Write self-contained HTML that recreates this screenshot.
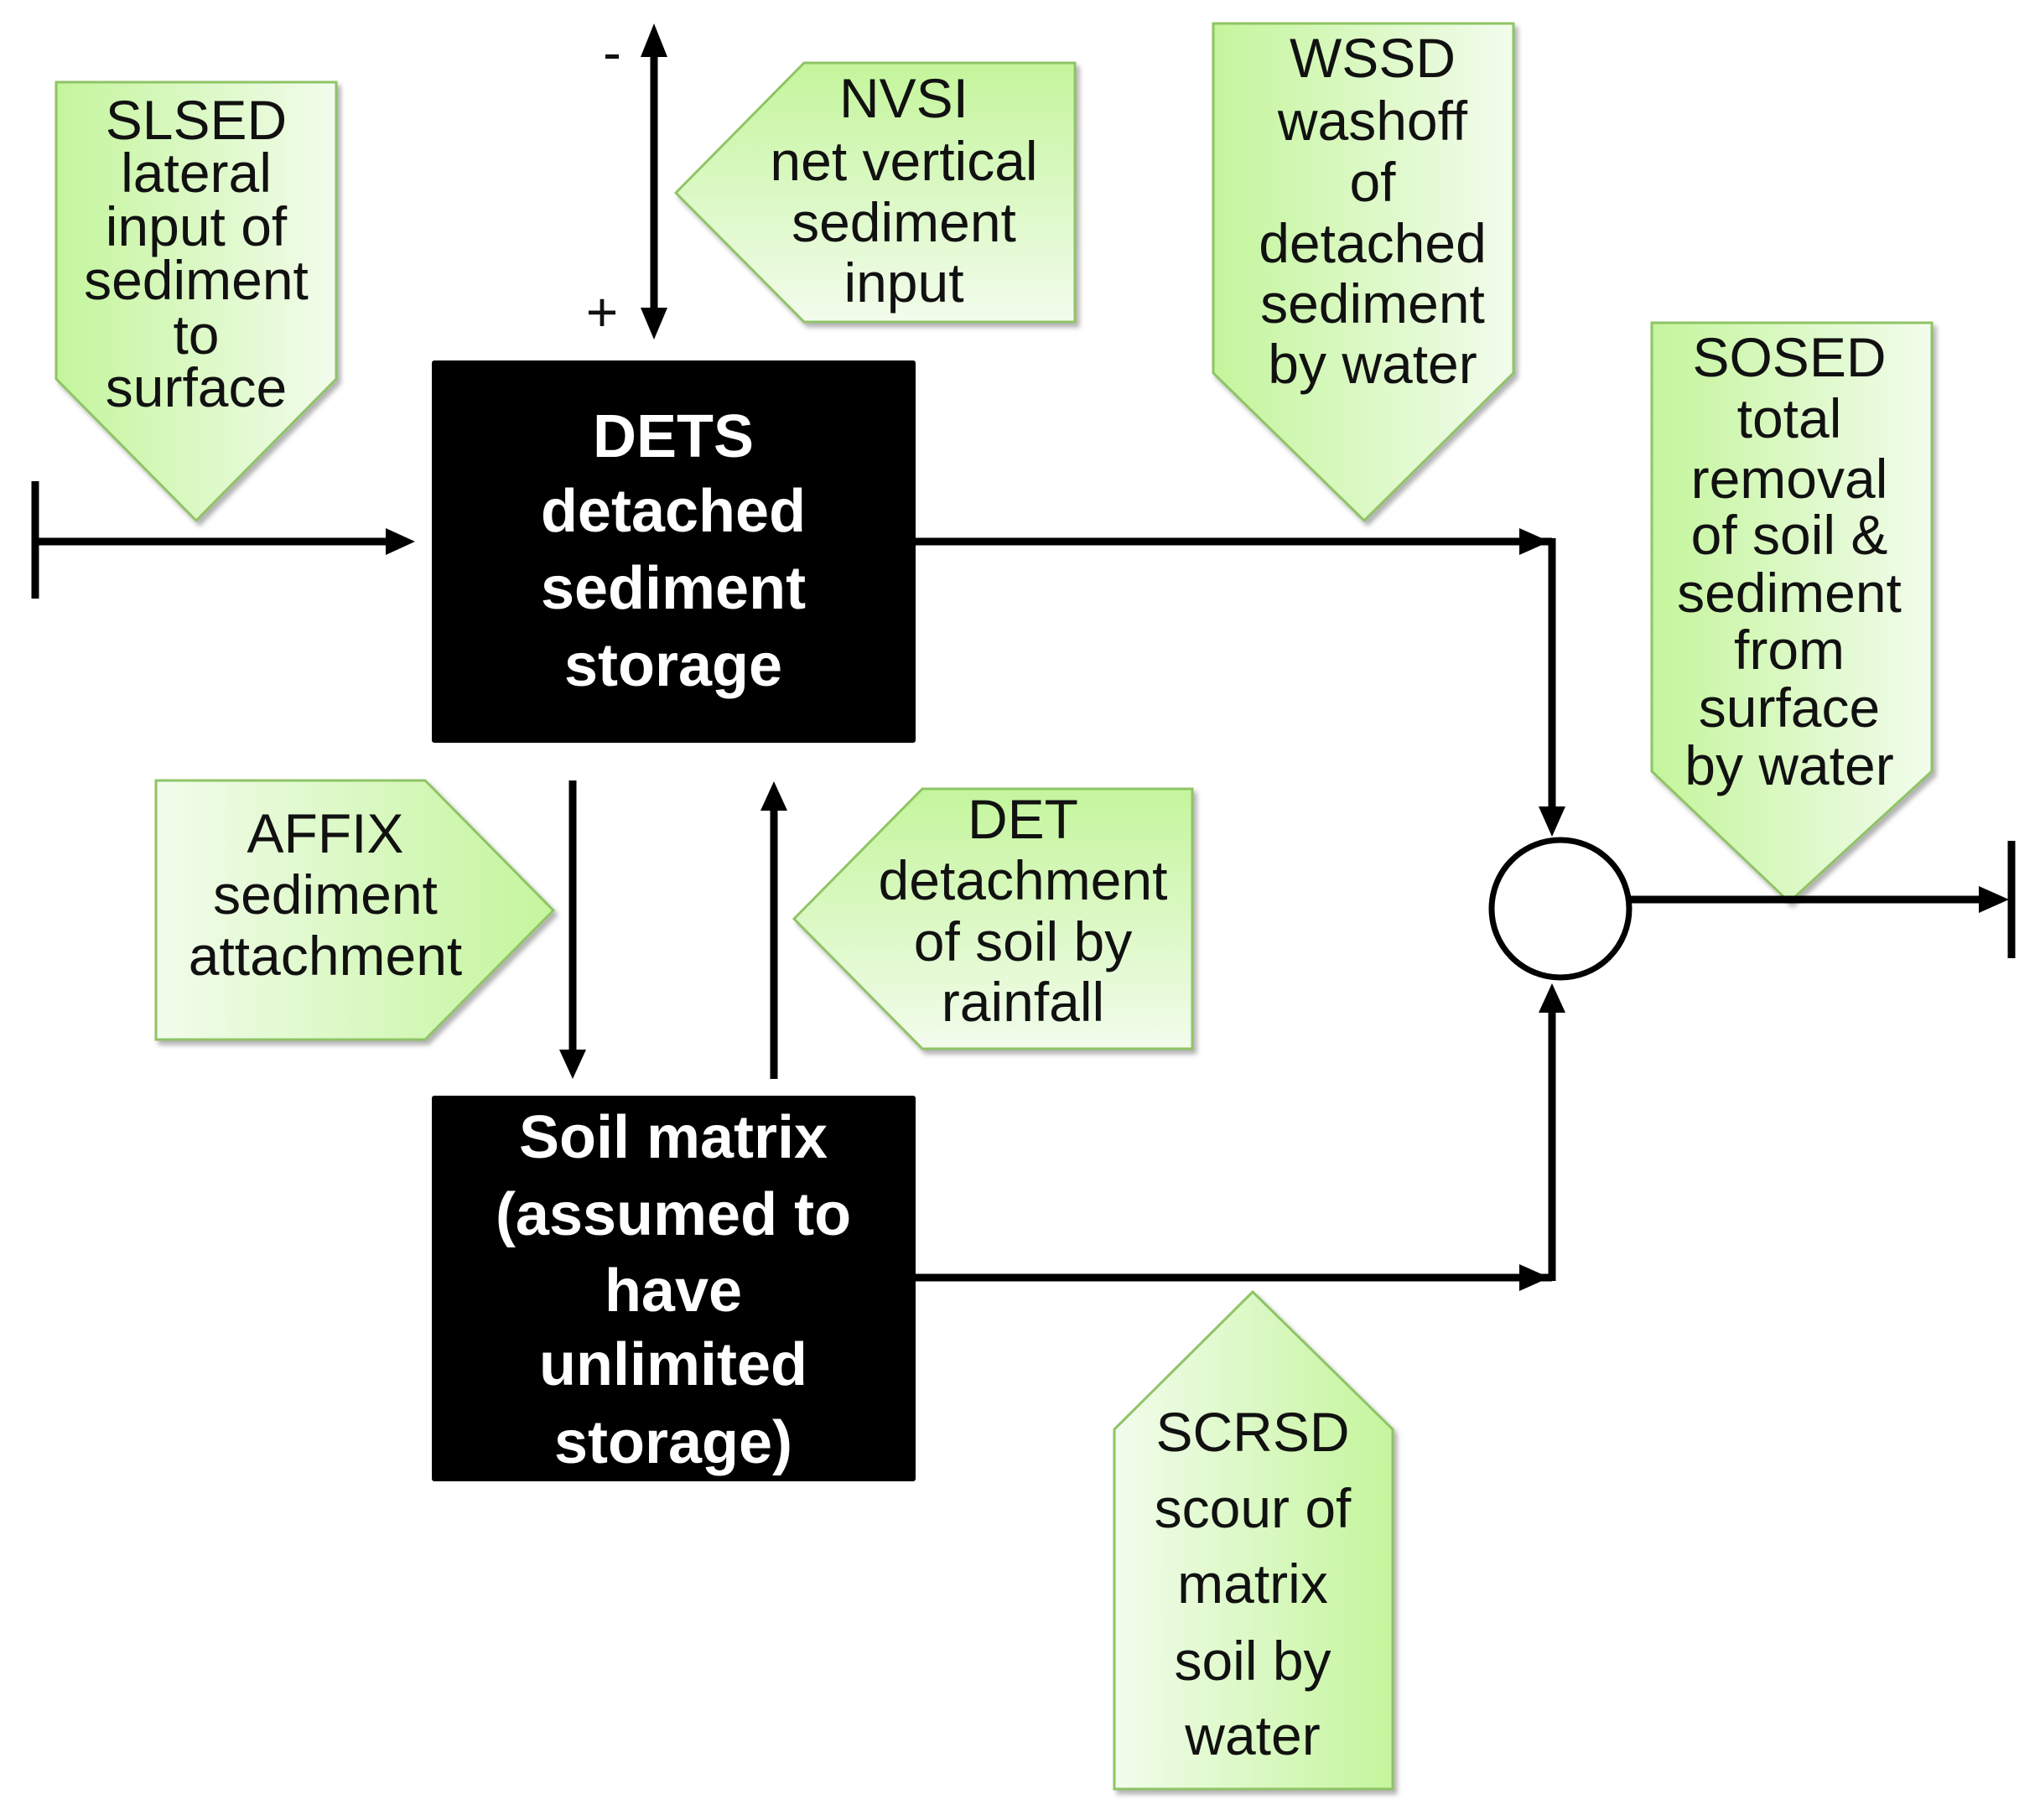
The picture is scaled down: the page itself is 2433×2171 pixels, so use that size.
<!DOCTYPE html>
<html><head><meta charset="utf-8"><style>html,body{margin:0;padding:0;background:#fff}</style></head>
<body>
<svg width="2433" height="2166" viewBox="0 0 2433 2166" xmlns="http://www.w3.org/2000/svg">
<defs>
<linearGradient id="gL" x1="0" y1="0" x2="1" y2="0"><stop offset="0" stop-color="#c4f59c"/><stop offset="1" stop-color="#f2fcec"/></linearGradient>
<linearGradient id="gR" x1="0" y1="0" x2="1" y2="0"><stop offset="0" stop-color="#f2fcec"/><stop offset="1" stop-color="#c4f59c"/></linearGradient>
<linearGradient id="gT" x1="0" y1="0" x2="0" y2="1"><stop offset="0" stop-color="#c4f59c"/><stop offset="1" stop-color="#f2fcec"/></linearGradient>
<filter id="sh" x="-10%" y="-10%" width="130%" height="130%"><feDropShadow dx="4" dy="5" stdDeviation="3" flood-color="#000" flood-opacity="0.3"/></filter>
</defs>
<g fill="url(#gL)" stroke="#8fc466" stroke-width="3" filter="url(#sh)">
<polygon points="67,98 401,98 401,452 234,621 67,452"/>
<polygon points="806,230 959,75 1282,75 1282,384 959,384" fill="url(#gT)"/>
<polygon points="1447,28 1805,28 1805,445 1627,621 1447,445"/>
<polygon points="1970,385 2304,385 2304,920 2134,1076 1970,920"/>
<polygon points="186,931 507,931 660,1086 507,1240 186,1240" fill="url(#gR)"/>
<polygon points="947,1096 1100,941 1422,941 1422,1251 1100,1251" fill="url(#gT)"/>
<polygon points="1494,1541 1661,1705 1661,2134 1329,2134 1329,1705" fill="url(#gR)"/>
</g>
<g font-family="'Liberation Sans', sans-serif" font-size="66" text-anchor="middle" dominant-baseline="central" fill="#111">
<text x="234" y="143">SLSED</text><text x="234" y="206">lateral</text><text x="234" y="270">input of</text><text x="234" y="334">sediment</text><text x="234" y="399">to</text><text x="234" y="462">surface</text>
<text x="1078" y="117">NVSI</text><text x="1078" y="192">net vertical</text><text x="1078" y="265">sediment</text><text x="1078" y="337">input</text>
<text x="1637" y="69">WSSD</text><text x="1637" y="144">washoff</text><text x="1637" y="217">of</text><text x="1637" y="290">detached</text><text x="1637" y="362">sediment</text><text x="1637" y="434">by water</text>
<text x="2134" y="426">SOSED</text><text x="2134" y="499">total</text><text x="2134" y="571">removal</text><text x="2134" y="638">of soil &amp;</text><text x="2134" y="707">sediment</text><text x="2134" y="775">from</text><text x="2134" y="844">surface</text><text x="2134" y="913">by water</text>
<text x="388" y="994">AFFIX</text><text x="388" y="1067">sediment</text><text x="388" y="1140">attachment</text>
<text x="1220" y="977">DET</text><text x="1220" y="1050">detachment</text><text x="1220" y="1123">of soil by</text><text x="1220" y="1195">rainfall</text>
<text x="1494" y="1708">SCRSD</text><text x="1494" y="1799">scour of</text><text x="1494" y="1889">matrix</text><text x="1494" y="1981">soil by</text><text x="1494" y="2070">water</text>
<text x="730" y="62">-</text><text x="718" y="372">+</text>
</g>
<rect x="515" y="430" width="577" height="456" fill="#000" rx="3"/>
<rect x="515" y="1307" width="577" height="460" fill="#000" rx="3"/>
<g font-family="'Liberation Sans', sans-serif" font-size="72" font-weight="bold" text-anchor="middle" dominant-baseline="central" fill="#fff">
<text x="803" y="521">DETS</text><text x="803" y="610">detached</text><text x="803" y="702">sediment</text><text x="803" y="794">storage</text>
<text x="803" y="1357">Soil matrix</text><text x="803" y="1449">(assumed to</text><text x="803" y="1540">have</text><text x="803" y="1628">unlimited</text><text x="803" y="1721">storage)</text>
</g>
<g stroke="#000" stroke-width="9" fill="none">
<line x1="42" y1="574" x2="42" y2="714"/>
<line x1="42" y1="646" x2="465" y2="646"/>
<line x1="780" y1="60" x2="780" y2="375"/>
<line x1="1092" y1="646" x2="1851" y2="646"/>
<line x1="1851" y1="642" x2="1851" y2="965"/>
<line x1="1092" y1="1524" x2="1851" y2="1524"/>
<line x1="1851" y1="1528" x2="1851" y2="1205"/>
<line x1="1945" y1="1073" x2="2365" y2="1073"/>
<line x1="2399" y1="1003" x2="2399" y2="1143"/>
<line x1="683" y1="931" x2="683" y2="1255"/>
<line x1="923" y1="1287" x2="923" y2="965"/>
<ellipse cx="1861" cy="1084" rx="82" ry="82" stroke-width="7"/>
</g>
<g fill="#000">
<polygon points="460,630 495,646 460,662"/>
<polygon points="764,68 780,28 796,68"/>
<polygon points="764,367 780,405 796,367"/>
<polygon points="1812,630 1848,646 1812,662"/>
<polygon points="1835,962 1851,998 1867,962"/>
<polygon points="1812,1508 1848,1524 1812,1540"/>
<polygon points="1835,1208 1851,1173 1867,1208"/>
<polygon points="2360,1057 2396,1073 2360,1089"/>
<polygon points="667,1252 683,1287 699,1252"/>
<polygon points="907,967 923,932 939,967"/>
</g>
</svg>
</body></html>
